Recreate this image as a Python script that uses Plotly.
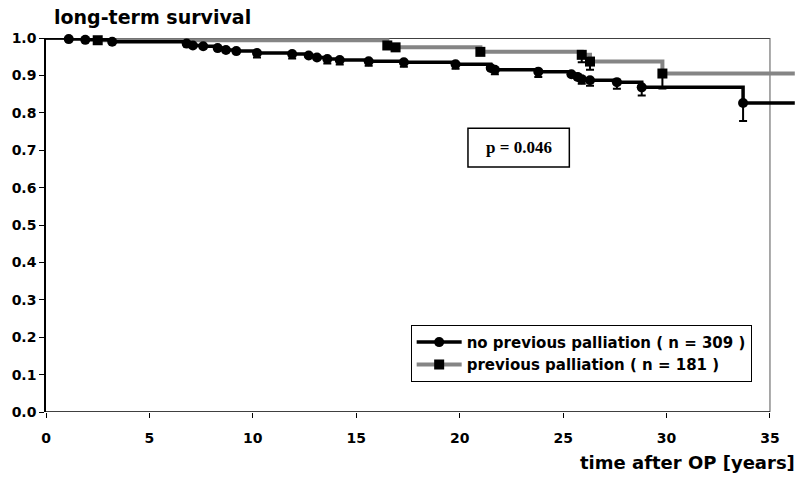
import plotly.graph_objects as go

# --- data -------------------------------------------------------------
# no previous palliation (n = 309): step times, survival after step, lower error
np_t = [1.1, 1.9, 3.2, 6.8, 7.1, 7.6, 8.3, 8.7, 9.2, 10.2, 11.9, 12.7, 13.1, 13.6,
        14.2, 15.6, 17.3, 19.8, 21.5, 21.7, 23.8, 25.4, 25.7, 25.9, 26.3, 27.6,
        28.8, 33.7]
np_s = [0.997, 0.995, 0.990, 0.985, 0.980, 0.978, 0.973, 0.968, 0.965, 0.960,
        0.957, 0.953, 0.948, 0.944, 0.941, 0.938, 0.935, 0.930, 0.920, 0.915,
        0.910, 0.903, 0.896, 0.890, 0.887, 0.882, 0.868, 0.826]
np_err = [0, 0, 0, 0, 0, 0, 0, 0, 0, 0.012, 0.012, 0, 0, 0.012, 0.012, 0.012,
          0.012, 0.012, 0, 0.012, 0.014, 0, 0, 0.012, 0.015, 0.018, 0.022, 0.048]

# previous palliation (n = 181)
pp_t = [2.5, 16.5, 16.9, 21.0, 25.9, 26.3, 29.8]
pp_s = [0.994, 0.980, 0.975, 0.963, 0.955, 0.937, 0.905]
pp_err = [0, 0, 0, 0, 0.02, 0.022, 0.04]

t_end = 36.2
x_ticks = [0, 5, 10, 15, 20, 25, 30, 35]
y_ticks = [0.0, 0.1, 0.2, 0.3, 0.4, 0.5, 0.6, 0.7, 0.8, 0.9, 1.0]

np_label = "no previous palliation ( n = 309 )"
pp_label = "previous palliation ( n = 181 )"
p_text = "p = 0.046"

FONT = "DejaVu Sans"
MS = 10

fig = go.Figure()

def add_curve(t, s, err, color, lw, symbol, name, rank):
    xs = [0] + t + [t_end]
    ys = [1.0] + s + [s[-1]]
    fig.add_trace(go.Scatter(
        x=xs, y=ys, mode="lines+markers", line_shape="hv",
        line=dict(color=color, width=lw),
        marker=dict(symbol=symbol, size=MS, color="black"),
        selectedpoints=[], unselected=dict(marker=dict(opacity=0)),
        name=name, legendrank=rank, cliponaxis=False, hoverinfo="skip"))
    fig.add_trace(go.Scatter(
        x=t, y=s, mode="markers", showlegend=False,
        marker=dict(symbol=symbol, size=MS, color="black"),
        error_y=dict(type="data", symmetric=False, array=[0] * len(t),
                     arrayminus=err, color="black", thickness=2, width=4),
        cliponaxis=False, hoverinfo="skip"))

add_curve(pp_t, pp_s, pp_err, "#858585", 4, "square", pp_label, 2)
add_curve(np_t, np_s, np_err, "black", 3.5, "circle", np_label, 1)

# frame lines (top, right, bottom)
fig.add_shape(type="line", x0=0, x1=35, y0=1, y1=1, line=dict(color="black", width=1.5), layer="below")
fig.add_shape(type="line", x0=35, x1=35, y0=0, y1=1, line=dict(color="#555", width=1), layer="below")
fig.add_shape(type="line", x0=0, x1=35, y0=0, y1=0, line=dict(color="black", width=1.5), layer="below")

# p-value box
fig.add_shape(type="rect", x0=20.4, x1=25.3, y0=0.655, y1=0.759,
              line=dict(color="black", width=1.5), fillcolor="white")
fig.add_annotation(x=22.85, y=0.707, text="<b>" + p_text + "</b>", showarrow=False,
                   font=dict(family="Liberation Serif", size=17, color="black"))

# titles
fig.add_annotation(xref="paper", yref="paper", x=0.1404, y=1.056, xanchor="center",
                   yanchor="middle", text="<b>long-term survival</b>", showarrow=False,
                   font=dict(family=FONT, size=19, color="black"))
fig.add_annotation(xref="paper", yref="paper", x=0.9947, y=-0.136, xanchor="right",
                   yanchor="middle", text="<b>time after OP [years]</b>", showarrow=False,
                   font=dict(family=FONT, size=18, color="black"))

fig.update_layout(
    width=811, height=482,
    margin=dict(l=46, r=10, t=38, b=70),
    plot_bgcolor="white", paper_bgcolor="white",
    font=dict(family=FONT, color="black"),
    showlegend=True,
    legend=dict(x=0.483, y=0.233, xanchor="left", yanchor="top",
                bordercolor="black", borderwidth=1, bgcolor="white",
                font=dict(family=FONT, size=15, color="black", weight="bold"),
                itemwidth=45, tracegroupgap=0),
    xaxis=dict(range=[0, 36.5], tickvals=x_ticks, ticks="outside", ticklen=5,
               tickcolor="black", showgrid=False, zeroline=False, showline=False,
               ticklabelstandoff=8,
               tickfont=dict(family=FONT, size=14, color="black", weight="bold")),
    yaxis=dict(range=[0, 1.0], tickvals=y_ticks, tickformat=".1f", ticks="outside",
               ticklen=5, tickcolor="black", showgrid=False, zeroline=False,
               showline=True, linecolor="black", linewidth=1.5,
               tickfont=dict(family=FONT, size=14, color="black", weight="bold")),
)

fig.write_html("out.html")
